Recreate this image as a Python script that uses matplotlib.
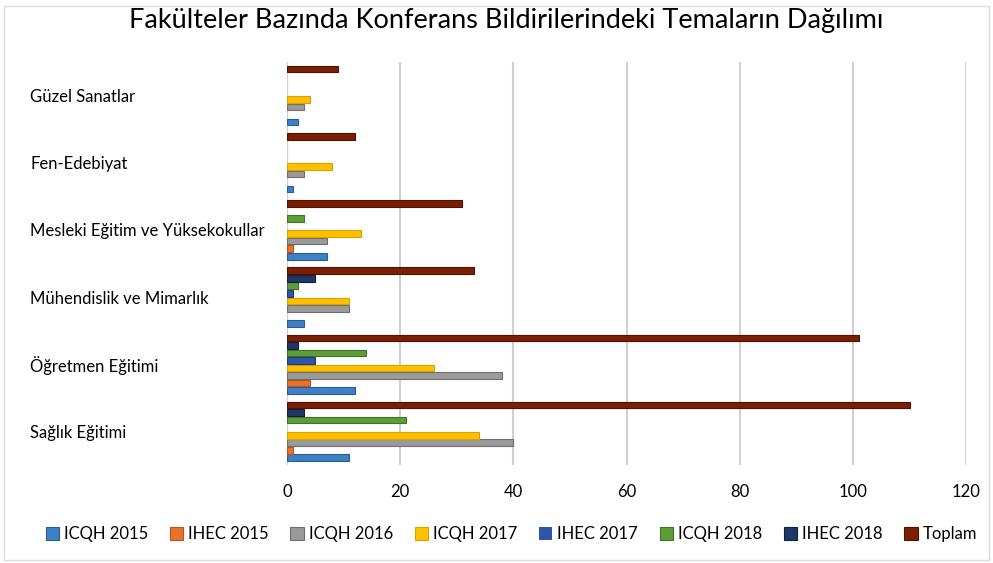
import numpy as np
import matplotlib
matplotlib.use("Agg")
import matplotlib.pyplot as plt
from matplotlib.patches import Rectangle

plt.rcParams['font.family'] = ['Lato', 'DejaVu Sans']

categories = ['Sağlık Eğitimi', 'Öğretmen Eğitimi', 'Mühendislik ve Mimarlık',
              'Mesleki Eğitim ve Yüksekokullar', 'Fen-Edebiyat', 'Güzel Sanatlar']
series = ['ICQH 2015', 'IHEC 2015', 'ICQH 2016', 'ICQH 2017',
          'IHEC 2017', 'ICQH 2018', 'IHEC 2018', 'Toplam']

icqh_2015 = [11, 12, 3, 7, 1, 2]
ihec_2015 = [1, 4, 0, 1, 0, 0]
icqh_2016 = [40, 38, 11, 7, 3, 3]
icqh_2017 = [34, 26, 11, 13, 8, 4]
ihec_2017 = [0, 5, 1, 0, 0, 0]
icqh_2018 = [21, 14, 2, 3, 0, 0]
ihec_2018 = [3, 2, 5, 0, 0, 0]
toplam = [110, 101, 33, 31, 12, 9]

values = [icqh_2015, ihec_2015, icqh_2016, icqh_2017,
          ihec_2017, icqh_2018, ihec_2018, toplam]
colors = ['#3F7FC4', '#E8722A', '#9A9A9A', '#FFC000',
          '#2E56A8', '#5E9E38', '#1F3864', '#7A1F06']
edges = ['#2A5D96', '#B8561C', '#6E6E6E', '#D9A200',
         '#1C3A7A', '#3F7424', '#10203F', '#4E1203']

fig = plt.figure(figsize=(9.93, 5.63), dpi=100)
ax = fig.add_axes([0.289, 0.174, 0.684, 0.716])

y = np.arange(len(categories))
step = 0.112
height = 0.098
for i, (name, vals) in enumerate(zip(series, values)):
    offset = (i - 3.5) * step
    ec = [edges[i] if v > 0 else 'none' for v in vals]
    ax.barh(y + offset, vals, height=height, color=colors[i],
            edgecolor=ec, linewidth=0.8, label=name)

ax.set_xlim(0, 120)
ax.set_ylim(-0.5, len(categories) - 0.5)
ax.set_xticks(range(0, 121, 20))
ax.set_yticks(y)
ax.set_yticklabels(categories, fontsize=12, ha='left')
ax.tick_params(axis='y', length=0, pad=185)
ax.tick_params(axis='x', length=0, labelsize=12, pad=14)
ax.grid(axis='x', color='#d0d0d0', linewidth=1.5)
ax.set_axisbelow(True)
for s in ax.spines.values():
    s.set_visible(False)
ax.axvline(0, color='#d9d9d9', linewidth=1, zorder=0)

fig.suptitle('Fakülteler Bazında Konferans Bildirilerindeki Temaların Dağılımı',
             fontsize=19.5, x=0.51, y=0.985)

ax.legend(loc='center', bbox_to_anchor=(0.515, 0.051), bbox_transform=fig.transFigure,
          ncol=8, frameon=False, fontsize=12, handlelength=0.8, handleheight=0.9,
          handletextpad=0.3, columnspacing=1.3)

fig.patches.append(Rectangle((0.004, 0.006), 0.992, 0.984, transform=fig.transFigure,
                             fill=False, edgecolor='#dcdcdc', linewidth=1))

fig.savefig('out.png', dpi=100)
